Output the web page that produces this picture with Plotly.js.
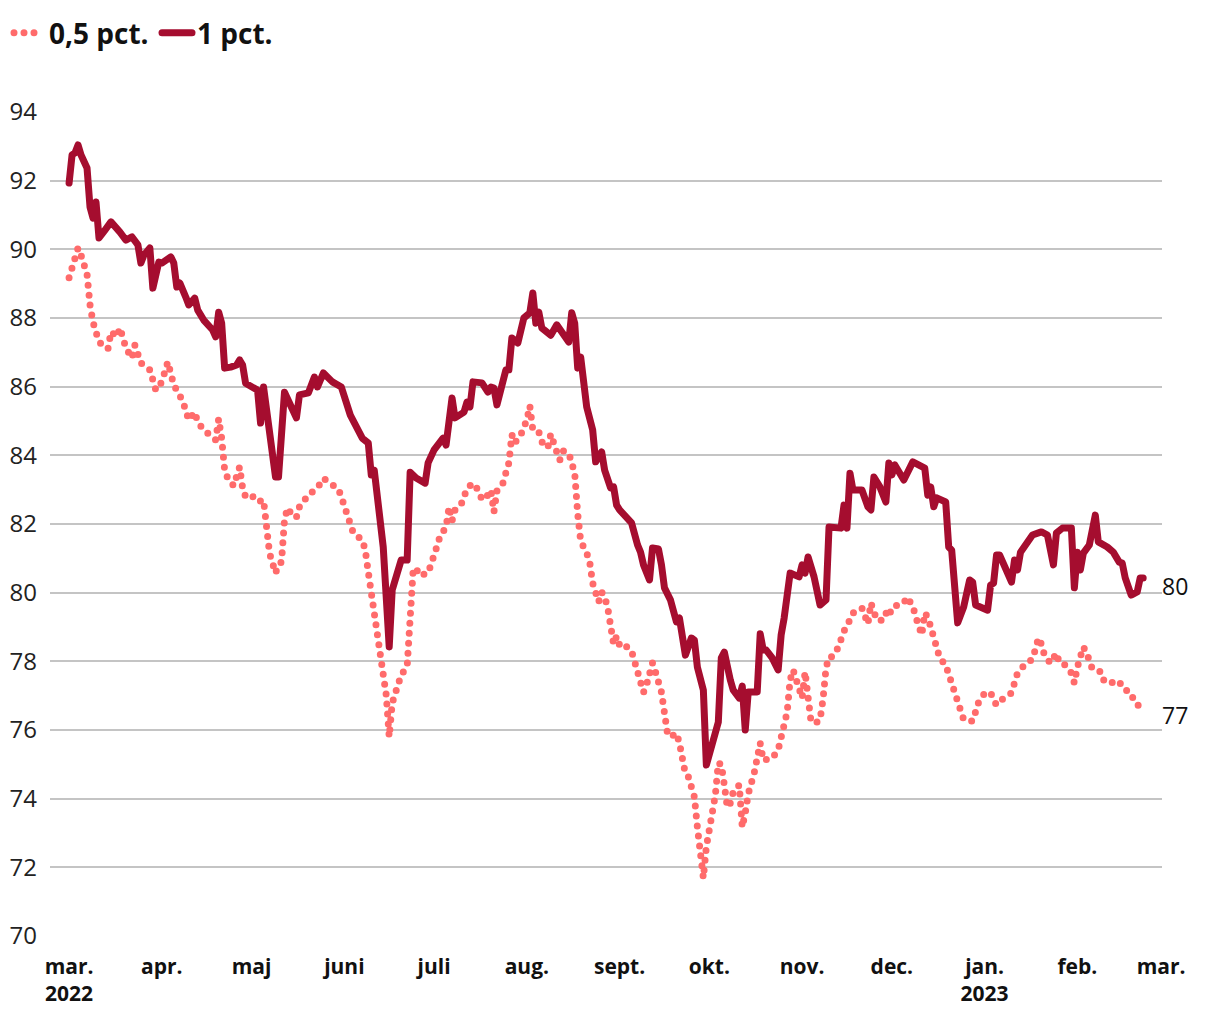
<!DOCTYPE html>
<html>
<head>
<meta charset="utf-8">
<script src="https://cdn.plot.ly/plotly-3.0.1.min.js"></script>
<style>
html,body{margin:0;padding:0;background:#fff;}
#chart{width:1220px;height:1020px;}
.js-line{stroke-linecap:round;stroke-linejoin:round;}
</style>
</head>
<body>
<div id="chart"></div>
<script>
// 1 pct. series
const dates1 = ["2022-03-01","2022-03-02","2022-03-03","2022-03-04","2022-03-05","2022-03-07","2022-03-08","2022-03-09","2022-03-10","2022-03-11","2022-03-13","2022-03-15","2022-03-18","2022-03-20","2022-03-22","2022-03-24","2022-03-25","2022-03-26","2022-03-28","2022-03-29","2022-03-31","2022-04-01","2022-04-04","2022-04-05","2022-04-06","2022-04-07","2022-04-09","2022-04-10","2022-04-12","2022-04-13","2022-04-15","2022-04-18","2022-04-19","2022-04-20","2022-04-21","2022-04-22","2022-04-24","2022-04-26","2022-04-27","2022-04-28","2022-04-29","2022-05-01","2022-05-03","2022-05-04","2022-05-05","2022-05-09","2022-05-10","2022-05-12","2022-05-14","2022-05-16","2022-05-17","2022-05-20","2022-05-22","2022-05-23","2022-05-25","2022-05-28","2022-05-31","2022-06-01","2022-06-02","2022-06-03","2022-06-07","2022-06-09","2022-06-10","2022-06-11","2022-06-14","2022-06-16","2022-06-17","2022-06-20","2022-06-22","2022-06-23","2022-06-25","2022-06-28","2022-06-29","2022-07-01","2022-07-04","2022-07-05","2022-07-07","2022-07-08","2022-07-11","2022-07-12","2022-07-13","2022-07-14","2022-07-17","2022-07-19","2022-07-20","2022-07-21","2022-07-22","2022-07-24","2022-07-25","2022-07-26","2022-07-27","2022-07-29","2022-07-31","2022-08-02","2022-08-03","2022-08-04","2022-08-05","2022-08-06","2022-08-08","2022-08-09","2022-08-11","2022-08-13","2022-08-15","2022-08-16","2022-08-17","2022-08-18","2022-08-19","2022-08-21","2022-08-23","2022-08-24","2022-08-26","2022-08-27","2022-08-29","2022-08-30","2022-08-31","2022-09-01","2022-09-03","2022-09-05","2022-09-07","2022-09-08","2022-09-09","2022-09-11","2022-09-12","2022-09-14","2022-09-15","2022-09-16","2022-09-18","2022-09-19","2022-09-20","2022-09-21","2022-09-23","2022-09-25","2022-09-26","2022-09-27","2022-09-29","2022-09-30","2022-10-02","2022-10-04","2022-10-05","2022-10-06","2022-10-08","2022-10-09","2022-10-11","2022-10-12","2022-10-13","2022-10-14","2022-10-17","2022-10-18","2022-10-19","2022-10-20","2022-10-22","2022-10-24","2022-10-25","2022-10-26","2022-10-28","2022-10-31","2022-11-01","2022-11-02","2022-11-03","2022-11-05","2022-11-07","2022-11-09","2022-11-10","2022-11-14","2022-11-15","2022-11-16","2022-11-17","2022-11-18","2022-11-21","2022-11-23","2022-11-24","2022-11-25","2022-11-27","2022-11-29","2022-11-30","2022-12-01","2022-12-02","2022-12-05","2022-12-08","2022-12-12","2022-12-13","2022-12-14","2022-12-15","2022-12-16","2022-12-19","2022-12-20","2022-12-21","2022-12-23","2022-12-25","2022-12-27","2022-12-28","2022-12-29","2023-01-02","2023-01-03","2023-01-04","2023-01-05","2023-01-06","2023-01-08","2023-01-10","2023-01-11","2023-01-12","2023-01-13","2023-01-15","2023-01-17","2023-01-19","2023-01-20","2023-01-22","2023-01-24","2023-01-25","2023-01-27","2023-01-30","2023-01-31","2023-02-01","2023-02-02","2023-02-03","2023-02-05","2023-02-07","2023-02-08","2023-02-11","2023-02-13","2023-02-15","2023-02-16","2023-02-17","2023-02-19","2023-02-21","2023-02-22","2023-02-23"];
const values1 = [91.93,92.75,92.81,93.04,92.75,92.37,91.23,90.91,91.38,90.33,90.56,90.8,90.5,90.27,90.36,90.13,89.6,89.83,90.04,88.87,89.63,89.6,89.78,89.6,88.9,89.02,88.61,88.38,88.58,88.23,87.94,87.65,87.45,88.17,87.85,86.54,86.57,86.63,86.78,86.63,86.1,86.0,85.9,84.94,85.99,83.37,83.37,85.84,85.41,85.09,85.76,85.82,86.28,85.99,86.4,86.14,85.99,85.7,85.55,85.17,84.5,84.36,83.43,83.57,81.33,78.42,80.08,80.95,80.95,83.51,83.34,83.19,83.78,84.16,84.5,84.3,85.67,85.09,85.26,85.55,85.41,86.14,86.11,85.84,85.99,85.96,85.47,86.19,86.49,86.49,87.42,87.27,88.0,88.15,88.73,87.85,88.17,87.71,87.56,87.5,87.8,87.59,87.3,88.15,87.85,86.54,86.86,85.41,84.74,83.81,84.1,83.57,83.05,83.08,82.55,82.41,82.23,82.03,81.39,81.18,80.81,80.37,81.3,81.27,80.81,80.14,79.79,79.44,79.15,79.26,78.18,78.68,78.62,77.83,77.16,74.98,75.56,76.23,78.1,78.27,77.46,77.16,76.93,77.28,76.0,77.11,77.11,78.8,78.33,78.33,78.1,77.75,78.77,79.26,80.57,80.46,80.81,80.57,81.04,80.46,79.64,79.79,81.91,81.88,82.55,81.88,83.48,82.99,82.99,82.5,82.41,83.37,83.08,82.64,83.78,83.43,83.72,83.28,83.81,83.63,82.84,83.08,82.5,82.76,82.64,81.33,81.24,79.12,79.58,80.37,80.31,79.64,79.49,80.22,80.28,81.1,81.1,80.75,80.31,80.95,80.66,81.18,81.45,81.68,81.74,81.77,81.68,80.81,81.74,81.88,81.88,80.14,81.18,80.66,81.15,81.39,82.26,81.48,81.33,81.18,80.89,80.86,80.43,79.93,80.02,80.43,80.43];

// 0,5 pct. series
const dates05 = ["2022-03-01","2022-03-04","2022-03-05","2022-03-07","2022-03-08","2022-03-09","2022-03-11","2022-03-14","2022-03-15","2022-03-17","2022-03-18","2022-03-20","2022-03-22","2022-03-23","2022-03-25","2022-03-28","2022-03-30","2022-04-01","2022-04-03","2022-04-05","2022-04-08","2022-04-10","2022-04-12","2022-04-13","2022-04-15","2022-04-19","2022-04-20","2022-04-21","2022-04-22","2022-04-23","2022-04-25","2022-04-27","2022-04-28","2022-04-29","2022-05-01","2022-05-03","2022-05-05","2022-05-06","2022-05-07","2022-05-09","2022-05-10","2022-05-11","2022-05-12","2022-05-13","2022-05-15","2022-05-16","2022-05-17","2022-05-20","2022-05-23","2022-05-25","2022-05-27","2022-05-30","2022-05-31","2022-06-02","2022-06-03","2022-06-04","2022-06-07","2022-06-08","2022-06-09","2022-06-10","2022-06-11","2022-06-12","2022-06-13","2022-06-14","2022-06-15","2022-06-16","2022-06-17","2022-06-18","2022-06-19","2022-06-20","2022-06-22","2022-06-23","2022-06-24","2022-06-25","2022-06-26","2022-06-29","2022-06-30","2022-07-01","2022-07-02","2022-07-03","2022-07-05","2022-07-06","2022-07-07","2022-07-08","2022-07-10","2022-07-11","2022-07-12","2022-07-14","2022-07-16","2022-07-17","2022-07-19","2022-07-20","2022-07-21","2022-07-22","2022-07-24","2022-07-25","2022-07-26","2022-07-27","2022-07-28","2022-07-30","2022-07-31","2022-08-01","2022-08-02","2022-08-03","2022-08-05","2022-08-06","2022-08-08","2022-08-09","2022-08-11","2022-08-12","2022-08-13","2022-08-15","2022-08-16","2022-08-17","2022-08-18","2022-08-19","2022-08-21","2022-08-22","2022-08-23","2022-08-24","2022-08-25","2022-08-26","2022-08-27","2022-08-28","2022-08-29","2022-08-30","2022-08-31","2022-09-01","2022-09-02","2022-09-05","2022-09-06","2022-09-07","2022-09-08","2022-09-09","2022-09-10","2022-09-11","2022-09-12","2022-09-13","2022-09-14","2022-09-15","2022-09-16","2022-09-17","2022-09-18","2022-09-20","2022-09-21","2022-09-22","2022-09-23","2022-09-24","2022-09-25","2022-09-26","2022-09-27","2022-09-28","2022-09-29","2022-09-30","2022-10-01","2022-10-02","2022-10-03","2022-10-04","2022-10-05","2022-10-06","2022-10-07","2022-10-08","2022-10-09","2022-10-11","2022-10-12","2022-10-13","2022-10-14","2022-10-16","2022-10-17","2022-10-18","2022-10-19","2022-10-22","2022-10-24","2022-10-25","2022-10-26","2022-10-27","2022-10-28","2022-10-29","2022-10-30","2022-10-31","2022-11-01","2022-11-02","2022-11-03","2022-11-04","2022-11-06","2022-11-07","2022-11-08","2022-11-09","2022-11-10","2022-11-11","2022-11-13","2022-11-14","2022-11-15","2022-11-16","2022-11-17","2022-11-18","2022-11-21","2022-11-22","2022-11-23","2022-11-24","2022-11-25","2022-11-26","2022-11-28","2022-11-29","2022-11-30","2022-12-01","2022-12-03","2022-12-05","2022-12-06","2022-12-08","2022-12-09","2022-12-10","2022-12-11","2022-12-12","2022-12-13","2022-12-14","2022-12-15","2022-12-16","2022-12-17","2022-12-19","2022-12-20","2022-12-21","2022-12-22","2022-12-23","2022-12-24","2022-12-25","2022-12-28","2022-12-29","2022-12-30","2023-01-01","2023-01-03","2023-01-04","2023-01-05","2023-01-07","2023-01-10","2023-01-11","2023-01-12","2023-01-14","2023-01-17","2023-01-18","2023-01-19","2023-01-20","2023-01-21","2023-01-23","2023-01-24","2023-01-25","2023-01-26","2023-01-28","2023-01-30","2023-01-31","2023-02-01","2023-02-02","2023-02-03","2023-02-04","2023-02-05","2023-02-06","2023-02-09","2023-02-10","2023-02-12","2023-02-15","2023-02-16","2023-02-19","2023-02-20","2023-02-22"];
const values05 = [89.17,90.04,89.83,89.28,88.38,87.88,87.3,87.1,87.6,87.45,87.71,87.13,86.83,87.21,86.69,86.49,85.9,86.14,86.72,86.05,85.58,85.03,85.26,84.97,84.74,84.45,85.06,84.5,83.57,83.34,83.11,83.66,83.05,82.79,82.84,82.64,82.7,82.06,81.15,80.57,80.83,80.89,82.12,82.47,82.2,82.2,82.5,82.85,83.05,83.33,83.19,83.02,82.79,82.26,81.94,81.74,81.53,81.24,80.6,80.0,79.62,79.0,78.24,77.6,77.02,75.8,76.78,77.06,77.4,77.6,77.86,79.6,80.66,80.72,80.5,80.57,80.8,81.1,81.36,81.65,81.91,82.5,82.09,82.41,82.56,82.79,83.04,83.19,82.96,82.7,82.84,82.99,82.35,82.96,83.19,83.49,83.78,84.6,84.36,84.6,84.83,85.03,85.44,84.74,84.68,84.39,84.22,84.62,84.1,83.86,84.13,84.07,83.78,83.48,82.3,81.5,81.16,80.9,80.28,79.99,79.73,80.02,79.87,79.58,79.0,78.5,78.73,78.47,78.53,78.3,78.0,77.7,77.46,77.1,77.31,77.66,77.95,77.69,77.4,77.1,76.5,75.9,75.8,75.91,75.62,75.04,74.72,74.63,74.34,74.05,73.17,72.27,71.69,72.6,73.17,73.5,74.1,75.04,75.0,74.4,73.75,73.87,74.2,74.4,73.17,73.58,74.14,74.75,75.33,75.62,75.12,75.18,75.42,75.8,76.2,76.52,77.46,77.75,77.48,77.22,76.93,77.69,76.82,76.23,76.23,76.3,76.9,77.81,78.13,78.13,78.39,78.68,78.88,79.03,79.2,79.41,79.55,79.29,79.09,79.7,79.44,79.2,79.2,79.41,79.29,79.58,79.64,79.7,79.87,79.61,79.29,79.0,78.77,79.41,79.29,79.0,78.68,78.39,78.1,77.89,77.6,77.31,77.02,76.73,76.44,76.3,76.26,76.52,76.81,77.07,77.1,76.87,76.73,76.9,77.08,77.37,77.66,77.86,78.07,78.36,78.68,78.5,78.18,77.95,78.07,78.24,77.95,77.89,77.66,77.37,77.83,78.15,78.42,78.27,77.98,77.78,77.69,77.4,77.37,77.43,77.22,77.08,76.81,76.67];

const tickDates = ["2022-03-01","2022-04-01","2022-05-01","2022-06-01","2022-07-01","2022-08-01","2022-09-01","2022-10-01","2022-11-01","2022-12-01","2023-01-01","2023-02-01","2023-03-01"];
const tickLabels = ["mar.<br>2022","apr.","maj","juni","juli","aug.","sept.","okt.","nov.","dec.","jan.<br>2023","feb.","mar."];
const yTicks = [70,72,74,76,78,80,82,84,86,88,90,92,94];
const seriesNames = ["0,5 pct.","1 pct."];
const endLabels = ["77","80"];

const colLight = "#ff6b6b";
const colDark = "#a50d2f";
const FONT = "Open Sans, sans-serif";

const traces = [
  {x: dates05, y: values05, name: seriesNames[0], type: "scatter", mode: "lines",
   line: {color: colLight, width: 7, dash: "0px,10px"}},
  {x: dates1, y: values1, name: seriesNames[1], type: "scatter", mode: "lines",
   line: {color: colDark, width: 7}}
];

const layout = {
  width: 1220, height: 1020,
  margin: {l: 50, r: 58, t: 112, b: 84},
  paper_bgcolor: "#fff", plot_bgcolor: "#fff",
  font: {family: FONT, color: "#111", size: 21},
  showlegend: true,
  legend: {orientation: "h", xref: "container", yref: "container",
           x: 9/1220, xanchor: "left", y: 1 - 33/1020, yanchor: "middle",
           font: {family: FONT, size: 28, color: "#111", weight: "bold"},
           itemwidth: 30, entrywidth: 103, entrywidthmode: "pixels",
           tracegroupgap: 0, bgcolor: "rgba(0,0,0,0)"},
  xaxis: {type: "date", range: ["2022-02-22 15:00", "2023-03-01 07:00"],
          tickmode: "array", tickvals: tickDates, ticktext: tickLabels,
          showgrid: false, zeroline: false, showline: false, ticks: "",
          tickfont: {family: FONT, size: 21, color: "#111", weight: "bold"},
          ticklabelstandoff: 16, automargin: false, fixedrange: true},
  yaxis: {range: [70, 94], tickmode: "array", tickvals: yTicks,
          showgrid: true, gridcolor: "#c4c4c4", gridwidth: 2,
          zeroline: false, showline: false, ticks: "",
          tickfont: {family: FONT, size: 24, color: "#222"},
          ticklabelstandoff: 12, automargin: false, fixedrange: true},
  annotations: [
    {xref: "paper", yref: "y", x: 1, y: values05[values05.length-1], text: endLabels[0],
     xanchor: "left", yanchor: "middle", showarrow: false, yshift: -8, xshift: -2,
     font: {family: FONT, size: 23, color: "#111"}},
    {xref: "paper", yref: "y", x: 1, y: values1[values1.length-1], text: endLabels[1],
     xanchor: "left", yanchor: "middle", showarrow: false, yshift: -8, xshift: -2,
     font: {family: FONT, size: 23, color: "#111"}}
  ]
};

Plotly.newPlot("chart", traces, layout, {staticPlot: true, displayModeBar: false});
</script>
</body>
</html>
